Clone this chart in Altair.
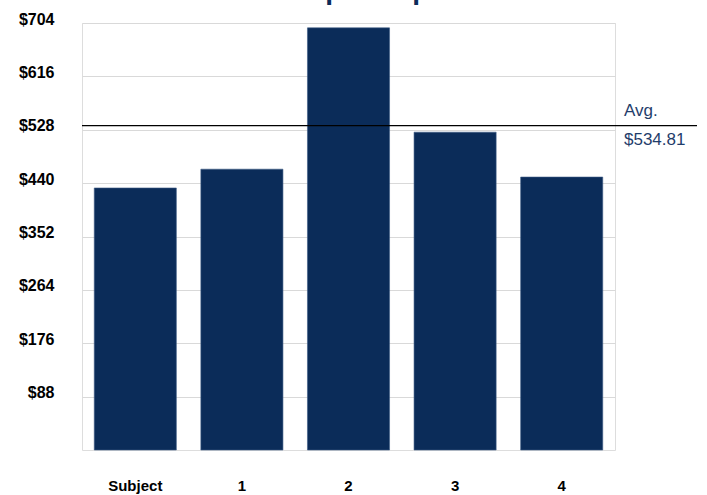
import altair as alt
import pandas as pd

categories = ["Subject", "1", "2", "3", "4"]
values = [432, 463, 696, 524, 450]
avg_value = 534.81
y_ticks = [88, 176, 264, 352, 440, 528, 616, 704]
title_text = "Comp Comparison"

NAVY = "#0b2c59"
FONT = "Liberation Sans"

df = pd.DataFrame({"cat": categories, "val": values})

bars = alt.Chart(df).mark_bar(color=NAVY, stroke="#3d5a85", strokeWidth=0.6).encode(
    x=alt.X("cat:N", sort=categories,
            scale=alt.Scale(paddingInner=0.23),
            axis=alt.Axis(title=None, labelAngle=0, ticks=False, domain=False,
                          labelPadding=28, labelFontSize=15, labelFontWeight="bold",
                          labelColor="black", labelFont=FONT, grid=False)),
    y=alt.Y("val:Q", scale=alt.Scale(domain=[0, 704], nice=False, zero=True),
            axis=alt.Axis(title=None, values=y_ticks, ticks=False, domain=False,
                          grid=True, gridColor="#d9d9d9", gridWidth=1.2,
                          labelExpr="'$' + datum.value",
                          labelFontSize=16, labelFontWeight="bold", labelColor="black",
                          labelFont=FONT, labelPadding=28, labelOffset=-4)),
)

avg_df = pd.DataFrame({"avg": [avg_value],
                       "lab1": ["Avg."],
                       "lab2": ["$" + format(avg_value, ".2f")]})

avg_rule = alt.Chart(avg_df).mark_rule(color="black", strokeWidth=1.3).encode(
    y="avg:Q", x=alt.value(0), x2=alt.value(615)
)
avg_lab1 = alt.Chart(avg_df).mark_text(align="left", baseline="bottom", dy=-6,
                                       fontSize=17, font=FONT, color="#1f3d6b").encode(
    y="avg:Q", x=alt.value(542), text="lab1:N"
)
avg_lab2 = alt.Chart(avg_df).mark_text(align="left", baseline="top", dy=6,
                                       fontSize=17, font=FONT, color="#1f3d6b").encode(
    y="avg:Q", x=alt.value(542), text="lab2:N"
)

title = alt.Chart(pd.DataFrame({"t": [title_text]})).mark_text(
    align="left", baseline="alphabetic", fontSize=28, fontWeight="bold",
    font=FONT, color=NAVY).encode(
    x=alt.value(181), y=alt.value(-24), text="t:N"
)

chart = alt.layer(bars, avg_rule, avg_lab1, avg_lab2, title).properties(
    width=533, height=427,
    padding={"left": 82, "top": 23, "right": 92, "bottom": 45},
    autosize=alt.AutoSizeParams(type="none"),
).configure_view(stroke="#d9d9d9", strokeWidth=1.5).configure(background="white")

chart.save("out.html", embed_options={"renderer": "svg", "actions": False})
